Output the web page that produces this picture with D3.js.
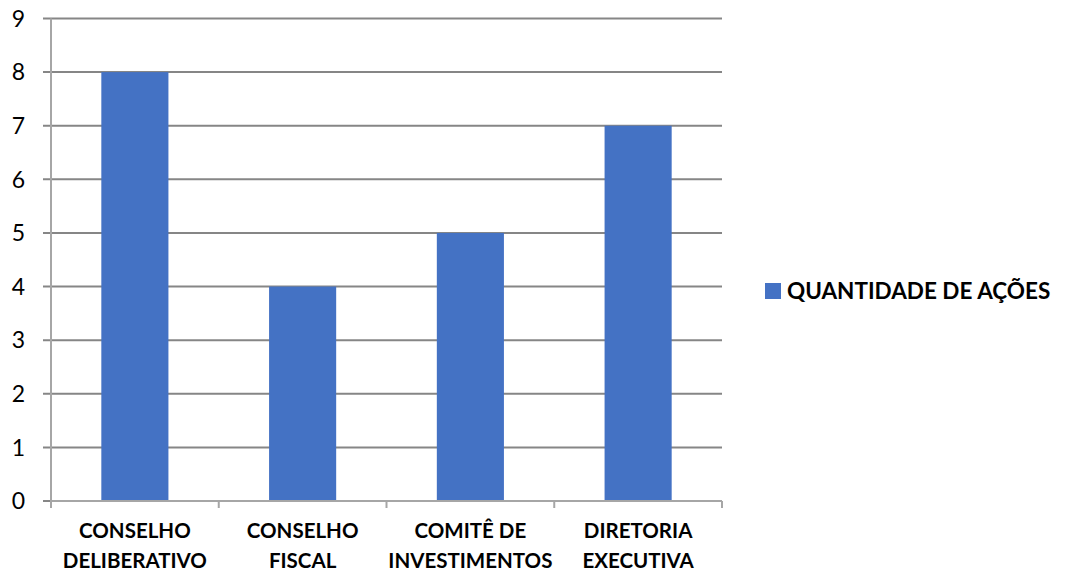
<!DOCTYPE html>
<html>
<head>
<meta charset="utf-8">
<script src="https://cdn.jsdelivr.net/npm/d3@7"></script>
<style>
  body { margin: 0; background: #fff; }
  text { font-family: Lato, "Open Sans", sans-serif; fill: #000; }
</style>
</head>
<body>
<div id="chart"></div>
<script>
// data
var categories = [["CONSELHO", "DELIBERATIVO"], ["CONSELHO", "FISCAL"], ["COMITÊ DE", "INVESTIMENTOS"], ["DIRETORIA", "EXECUTIVA"]];
var values = [8, 4, 5, 7];
var yTicks = [0, 1, 2, 3, 4, 5, 6, 7, 8, 9];
var seriesName = "QUANTIDADE DE AÇÕES";

var W = 1069, H = 572;
var margin = { top: 18.5, left: 51, right: 347, bottom: 71 };
var width = W - margin.left - margin.right,
    height = H - margin.top - margin.bottom;

var svg = d3.select('#chart').append('svg')
    .attr('width', W).attr('height', H);
var g = svg.append('g')
    .attr('transform', 'translate(' + margin.left + ',' + margin.top + ')');

var x = d3.scaleBand()
    .domain(d3.range(categories.length))
    .range([0, width])
    .paddingInner(0.6).paddingOuter(0.3);

var y = d3.scaleLinear().domain([0, 9]).range([height, 0]);

// gridlines
g.selectAll('.grid').data(yTicks).enter().append('line')
    .attr('x1', -8).attr('x2', width)
    .attr('y1', function(d) { return y(d); })
    .attr('y2', function(d) { return y(d); })
    .attr('stroke', '#868686').attr('stroke-width', 2);

// y axis line
g.append('line')
    .attr('x1', 0).attr('x2', 0).attr('y1', 0).attr('y2', height)
    .attr('stroke', '#a6a6a6').attr('stroke-width', 2);

// y labels
g.selectAll('.ylab').data(yTicks).enter().append('text')
    .attr('x', -26).attr('y', function(d) { return y(d); })
    .attr('dy', '0.36em').attr('text-anchor', 'end')
    .style('font-size', '23px')
    .text(function(d) { return d; });

// bars
g.selectAll('.bar').data(values).enter().append('rect')
    .attr('x', function(d, i) { return x(i); })
    .attr('width', x.bandwidth())
    .attr('y', function(d) { return y(d); })
    .attr('height', function(d) { return height - y(d); })
    .attr('fill', '#4472c4');

// x axis
var step = width / categories.length;
g.append('line')
    .attr('x1', 0).attr('x2', width).attr('y1', height).attr('y2', height)
    .attr('stroke', '#a6a6a6').attr('stroke-width', 2);
g.selectAll('.xtick').data(d3.range(categories.length + 1)).enter().append('line')
    .attr('x1', function(d) { return d * step; })
    .attr('x2', function(d) { return d * step; })
    .attr('y1', height).attr('y2', height + 7)
    .attr('stroke', '#a6a6a6').attr('stroke-width', 2);

var labels = g.selectAll('.xlab').data(categories).enter().append('text')
    .attr('text-anchor', 'middle')
    .style('font-size', '20.5px').style('font-weight', 'bold');
labels.each(function(d, i) {
    var t = d3.select(this);
    d.forEach(function(line, j) {
        t.append('tspan')
            .attr('x', x(i) + x.bandwidth() / 2)
            .attr('y', height + 37 + j * 30)
            .text(line);
    });
});

// legend
var leg = svg.append('g').attr('transform', 'translate(765,283)');
leg.append('rect').attr('width', 16).attr('height', 16).attr('fill', '#4472c4');
leg.append('text').attr('x', 22).attr('y', 8).attr('dy', '0.36em')
    .style('font-size', '22.5px').style('font-weight', 'bold')
    .text(seriesName);
</script>
</body>
</html>
